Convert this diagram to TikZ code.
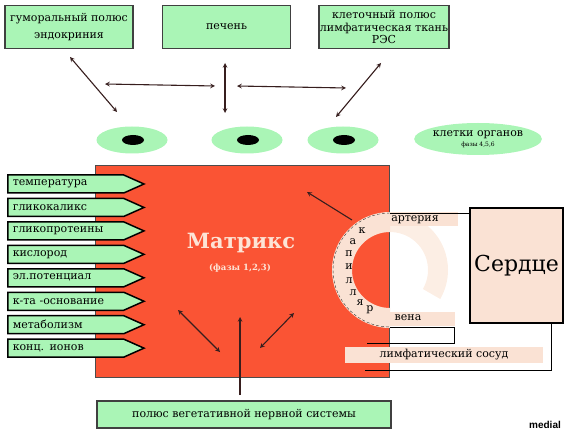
\documentclass[tikz,border=0pt]{standalone}
\usepackage{fontspec}
\setmainfont{DejaVu Serif}
\setsansfont{Liberation Sans}
\usetikzlibrary{shapes.symbols,shapes.geometric}
\definecolor{boxgreen}{RGB}{170,245,182}
\definecolor{matred}{RGB}{250,84,52}
\definecolor{peach}{RGB}{250,226,212}
\definecolor{paleorange}{RGB}{252,238,228}
\definecolor{darkline}{RGB}{55,30,30}
\definecolor{matlabel}{RGB}{253,228,214}
\begin{document}
\begin{tikzpicture}[x=1pt,y=-1pt,>=stealth]
\tikzstyle{every node}=[font=\fontsize{11}{13.5}\selectfont]
\tikzstyle{topbox}=[draw=black!75,line width=1.5pt,fill=boxgreen,minimum width=128,minimum height=43,align=center,inner sep=1pt]
\tikzstyle{cell}=[ellipse,fill=boxgreen,minimum width=71,minimum height=27,inner sep=0pt]
\tikzstyle{nucleus}=[ellipse,fill=black,minimum width=22,minimum height=10,inner sep=0pt]
\tikzstyle{tag}=[signal,signal to=east,signal pointer angle=48,draw=black,line width=1.5pt,fill=boxgreen,minimum height=18,text width=106,inner xsep=5pt,inner ysep=0pt,anchor=west]
\tikzstyle{band}=[fill=peach,inner sep=0pt]
\tikzstyle{link}=[<->,draw=darkline,line width=1.1pt]

\useasboundingbox (0,0) rectangle (572,435);

% Draw the three poles on top
\node[topbox] (humoral) at (69,27) {гуморальный полюс\\[3pt]эндокриния};
\node[topbox] (liver) at (226.5,27) {печень};
\node[topbox,font=\fontsize{11}{12.5}\selectfont] (cellular) at (384,27) {клеточный полюс\\лимфатическая ткань\\РЭС};

% Draw the cells
\foreach \name / \x in {1/132,2/247,3/343}
  {\node[cell] (C-\name) at (\x,140) {};
   \node[nucleus] (N-\name) at (\x+1,140) {};}
\node[cell,minimum width=110,minimum height=32,align=center] (organs) at (478,139)
  {клетки органов\\[-3pt]{\fontsize{6}{7}\selectfont фазы 4,5,6}};

% Arrow ends around the cells
\coordinate (h1) at (70,57);   \coordinate (h2) at (117,112);
\coordinate (m1) at (105,84);  \coordinate (m2) at (215,86);
\coordinate (v1) at (225,63);  \coordinate (v2) at (225,113);
\coordinate (r1) at (237,86);  \coordinate (r2) at (346,88);
\coordinate (k1) at (381,63);  \coordinate (k2) at (336,117);
\draw[link] (h1) -- (h2);
\draw[link] (m1) -- (m2);
\draw[link] (v1) -- (v2);
\draw[link] (r1) -- (r2);
\draw[link] (k1) -- (k2);

% Draw the matrix
\node[draw=black!70,fill=matred,minimum width=294,minimum height=212,inner sep=0pt] (matrix-box) at (242.5,271) {};
\node[text=matlabel,font=\fontsize{21}{24}\selectfont\bfseries] (matrix-text) at (241,243) {Матрикс};
\node[text=matlabel,font=\fontsize{8.5}{10}\selectfont\bfseries] (phases) at (240,268) {(фазы 1,2,3)};

% Draw the capillary ring
\fill[paleorange] ([shift={(270:58)}]390,270) arc (270:390:58)
  -- ([shift={(30:38)}]390,270) arc (30:-90:38) -- cycle;
\fill[peach] ([shift={(90:58)}]390,270) arc (90:270:58)
  -- ([shift={(270:38)}]390,270) arc (270:90:38) -- cycle;
\draw[black!80,densely dashed,thin] (390,213) arc (270:90:57);

% Draw the heart
\node[draw=black,line width=2pt,fill=peach,minimum width=93,minimum height=115,font=\fontsize{22}{26}\selectfont] (heart) at (516.5,265.5) {Сердце};

% Artery and vein
\node[band,minimum width=68,minimum height=14,anchor=north west] (artery) at (390,212) {};
\node at (415,220) {артерия};
\coordinate (art-start) at (390,213);
\draw[black] (art-start) -- (art-start -| heart.west);
\node[band,minimum width=65,minimum height=14,anchor=north west] (vein) at (390,312) {};
\node at (408,318) {вена};
\fill[white] (390,327) rectangle (454,343);
\coordinate (vein-end) at (367,343);
\draw[black] (390,327) -- (454,327) -- (454,343) -- (vein-end);

% Capillary letters
\foreach \l / \px / \py [count=\i] in {к/362/231,а/353/242,п/349/254,и/349/267,л/349/281,л/353/293,я/360/303,р/370/310}
  \node (cap-\i) at (\px,\py) {\l};

% Lymph vessel
\node[band,minimum width=198,minimum height=16] (lymph) at (444,355) {лимфатический сосуд};
\coordinate (lymph-end) at (365,370);
\draw[black] (heart.south east) ++(-13,0) |- (lymph-end);

% Draw the tags on the left
\foreach \lbl [count=\i] in {температура,гликокаликс,гликопротеины,кислород,эл.потенциал,к-та -основание,метаболизм,конц. ионов}
  \node[tag] (T-\i) at (7,{184+23.45*(\i-1)}) {\lbl};

% Arrows inside the matrix
\coordinate (c1) at (352,220); \coordinate (c2) at (307,192);
\coordinate (d1) at (178,310); \coordinate (d2) at (220,352);
\coordinate (e1) at (260,348); \coordinate (e2) at (294,313);
\coordinate (f1) at (240,395); \coordinate (f2) at (240,317);
\draw[link,->] (c1) -- (c2);
\draw[link] (d1) -- (d2);
\draw[link] (e1) -- (e2);
\draw[link,->] (f1) -- (f2);

% Vegetative pole at the bottom
\node[topbox,minimum width=294,minimum height=27] (vegetative) at (244,414.5) {полюс вегетативной нервной системы};

\node[font=\fontsize{10}{12}\sffamily\bfseries] (mark) at (545,425) {medial};
\end{tikzpicture}
\end{document}
